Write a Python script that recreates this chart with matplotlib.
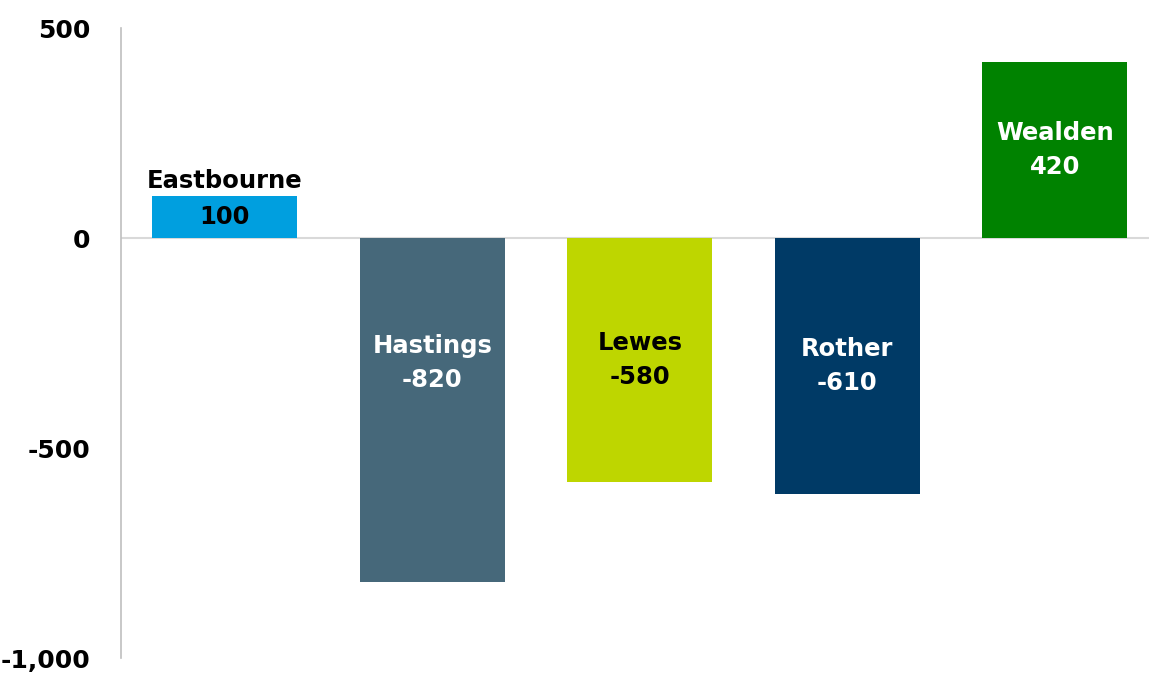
import matplotlib
matplotlib.use("Agg")
import matplotlib.pyplot as plt

categories = ["Eastbourne", "Hastings", "Lewes", "Rother", "Wealden"]
values = [100, -820, -580, -610, 420]
colors = ["#009FDF", "#46687A", "#BED600", "#003A66", "#008200"]
text_colors = ["black", "white", "black", "white", "white"]
yticks = [500, 0, -500, -1000]
ytick_labels = ["500", "0", "-500", "-1,000"]

W, H = 1149, 675
fig = plt.figure(figsize=(W / 100, H / 100), dpi=100)
ax = fig.add_axes([121 / W, 17 / H, (W - 121) / W, 630 / H])

x = list(range(len(categories)))
ax.bar(x, values, width=0.70, color=colors, zorder=2)
ax.set_xlim(-0.5, -0.5 + (W - 121) / 207.5)
ax.set_ylim(-1000, 500)
ax.axhline(0, color="#D9D9D9", lw=1.5, zorder=1)

for s in ["top", "right", "bottom"]:
    ax.spines[s].set_visible(False)
ax.spines["left"].set_color("#BFBFBF")
ax.spines["left"].set_linewidth(1.2)
ax.set_xticks([])
ax.set_yticks(yticks)
ax.set_yticklabels(ytick_labels)
ax.tick_params(axis="y", length=0, pad=22, labelsize=18)
for t in ax.get_yticklabels():
    t.set_fontweight("bold")

fs = 17.5
for i, (c, v) in enumerate(zip(categories, values)):
    if 0 < v < 200:
        ax.text(i, v + 6, c, ha="center", va="bottom", fontsize=fs, fontweight="bold", color="black")
        ax.text(i, v / 2, f"{v}", ha="center", va="center", fontsize=fs, fontweight="bold", color=text_colors[i])
    else:
        ymid = v / 2 if i != 1 else -298
        ax.text(i, ymid, f"{c}\n{v}", ha="center", va="center", fontsize=fs, fontweight="bold",
                color=text_colors[i], linespacing=1.55)

fig.savefig("out.png", dpi=100)
